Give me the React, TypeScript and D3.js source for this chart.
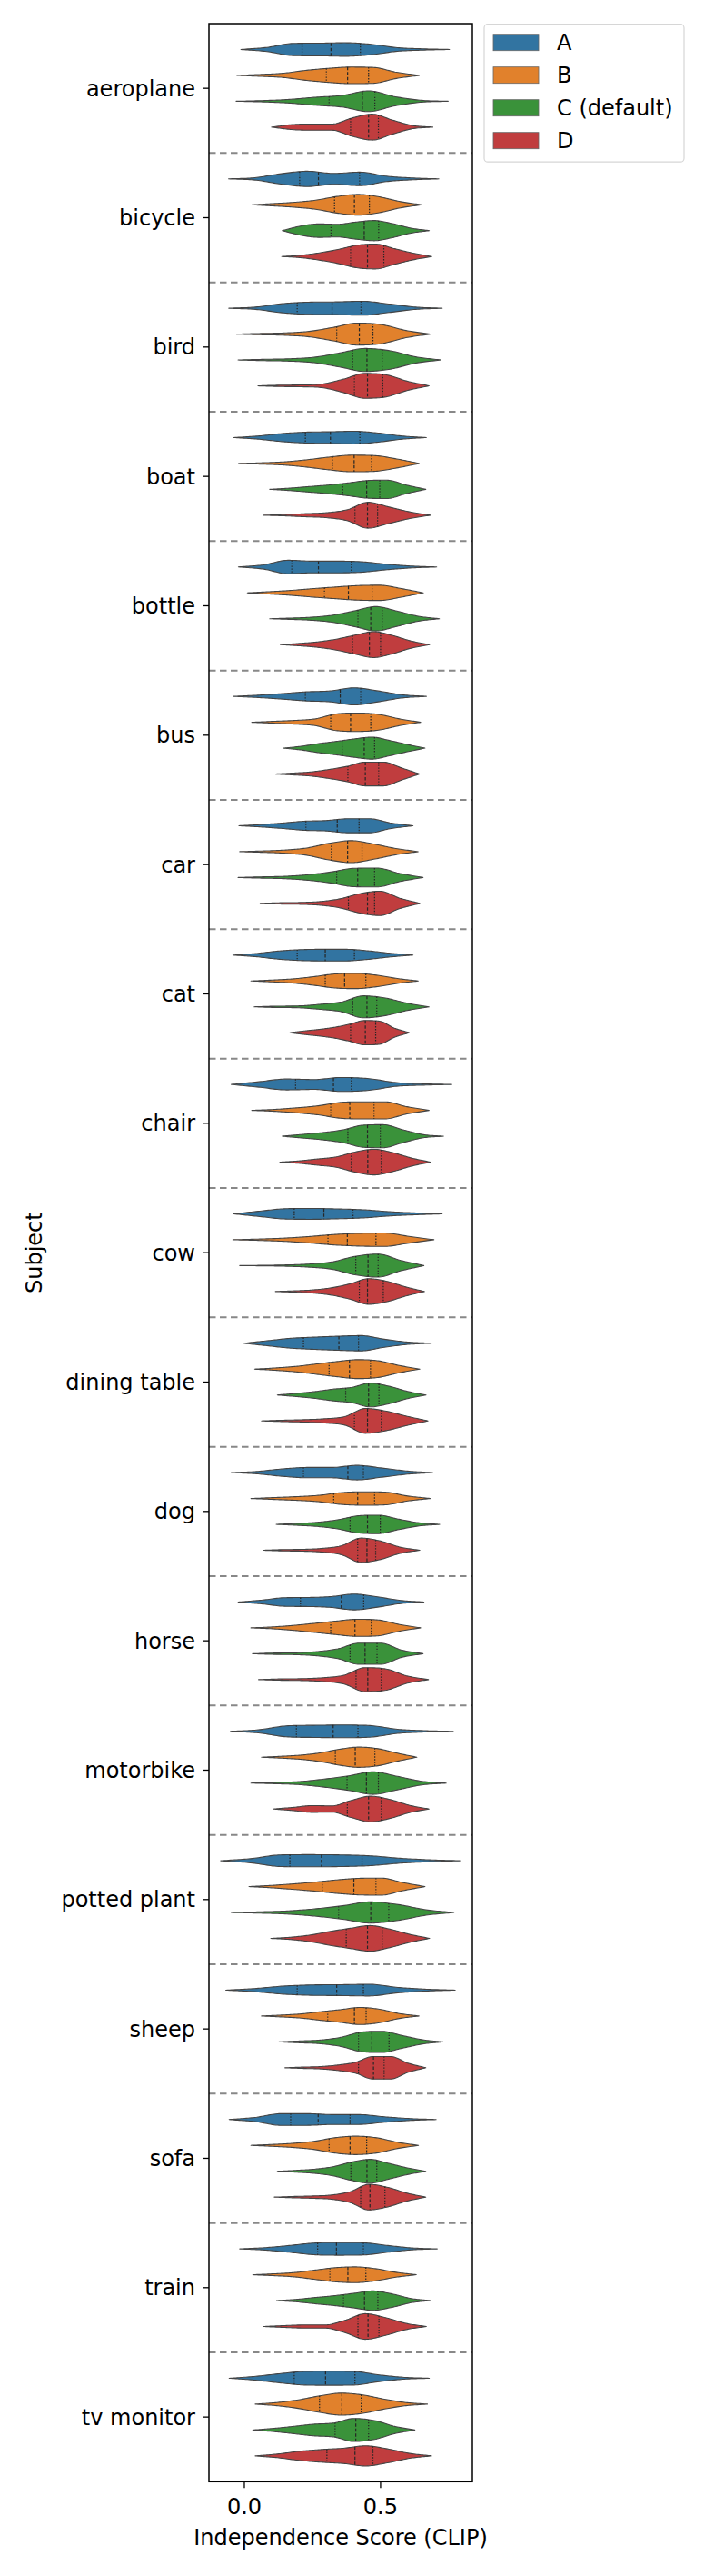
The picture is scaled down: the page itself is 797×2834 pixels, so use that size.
import React from "react";
import * as d3 from "d3";

const categories = [
  "aeroplane", "bicycle", "bird", "boat", "bottle", "bus", "car", "cat", "chair", "cow",
  "dining table", "dog", "horse", "motorbike", "potted plant", "sheep", "sofa", "train", "tv monitor",
];
const hueNames = ["A", "B", "C (default)", "D"];
const hueColors = ["#3274a1", "#e1812c", "#3a923a", "#c03d3e"];
const xTicks = [0.0, 0.5];

// Series A: [lo, hi], [q1, median, q3], density profile (7 interior points)
const rangeA = [
  [-0.013, 0.753], [-0.058, 0.714], [-0.057, 0.726], [-0.039, 0.668], [-0.022, 0.706],
  [-0.039, 0.668], [-0.02, 0.619], [-0.042, 0.619], [-0.048, 0.761], [-0.039, 0.726],
  [-0.003, 0.686], [-0.048, 0.691], [-0.023, 0.659], [-0.051, 0.767], [-0.087, 0.791],
  [-0.068, 0.774], [-0.056, 0.704], [-0.017, 0.708], [-0.056, 0.679],
];
const quartA = [
  [0.212, 0.318, 0.426], [0.203, 0.272, 0.423], [0.194, 0.322, 0.428], [0.224, 0.316, 0.424],
  [0.174, 0.272, 0.393], [0.224, 0.352, 0.427], [0.226, 0.341, 0.421], [0.194, 0.297, 0.404],
  [0.188, 0.327, 0.393], [0.183, 0.292, 0.399], [0.217, 0.347, 0.419], [0.217, 0.38, 0.437],
  [0.206, 0.356, 0.438], [0.191, 0.326, 0.417], [0.167, 0.283, 0.432], [0.194, 0.339, 0.437],
  [0.17, 0.271, 0.388], [0.269, 0.338, 0.437], [0.183, 0.298, 0.406],
];
const densA = [
  [0.16, 0.47, 0.49, 0.52, 0.40, 0.14, 0.05],
  [0.09, 0.40, 0.59, 0.42, 0.52, 0.21, 0.07],
  [0.09, 0.35, 0.47, 0.49, 0.54, 0.33, 0.09],
  [0.12, 0.31, 0.42, 0.45, 0.49, 0.35, 0.12],
  [0.16, 0.52, 0.45, 0.45, 0.40, 0.21, 0.07],
  [0.09, 0.21, 0.35, 0.42, 0.66, 0.42, 0.12],
  [0.09, 0.21, 0.35, 0.40, 0.54, 0.54, 0.21],
  [0.12, 0.31, 0.42, 0.45, 0.45, 0.33, 0.14],
  [0.21, 0.42, 0.38, 0.54, 0.45, 0.14, 0.05],
  [0.21, 0.40, 0.42, 0.38, 0.31, 0.16, 0.07],
  [0.19, 0.38, 0.47, 0.54, 0.59, 0.31, 0.09],
  [0.09, 0.28, 0.40, 0.40, 0.56, 0.35, 0.12],
  [0.14, 0.33, 0.35, 0.42, 0.61, 0.40, 0.12],
  [0.12, 0.42, 0.47, 0.49, 0.45, 0.16, 0.05],
  [0.16, 0.45, 0.47, 0.45, 0.38, 0.19, 0.07],
  [0.12, 0.31, 0.40, 0.42, 0.45, 0.21, 0.07],
  [0.16, 0.45, 0.45, 0.38, 0.38, 0.21, 0.07],
  [0.09, 0.26, 0.45, 0.49, 0.47, 0.26, 0.07],
  [0.14, 0.35, 0.52, 0.54, 0.52, 0.26, 0.07],
];

// Series B
const rangeB = [
  [-0.027, 0.642], [0.028, 0.651], [-0.029, 0.682], [-0.022, 0.642], [0.011, 0.657],
  [0.027, 0.647], [-0.017, 0.638], [0.024, 0.638], [0.027, 0.678], [-0.042, 0.696],
  [0.038, 0.644], [0.024, 0.682], [0.024, 0.647], [0.063, 0.633], [0.017, 0.663],
  [0.063, 0.641], [0.024, 0.639], [0.031, 0.631], [0.04, 0.672],
];
const quartB = [
  [0.301, 0.379, 0.456], [0.331, 0.404, 0.459], [0.339, 0.422, 0.472], [0.323, 0.403, 0.467],
  [0.294, 0.382, 0.469], [0.317, 0.39, 0.464], [0.319, 0.379, 0.432], [0.297, 0.368, 0.446],
  [0.317, 0.387, 0.476], [0.307, 0.378, 0.483], [0.311, 0.386, 0.463], [0.328, 0.416, 0.478],
  [0.317, 0.406, 0.466], [0.334, 0.407, 0.479], [0.286, 0.402, 0.483], [0.306, 0.404, 0.447],
  [0.311, 0.388, 0.449], [0.314, 0.38, 0.446], [0.276, 0.358, 0.429],
];
const densB = [
  [0.07, 0.16, 0.38, 0.54, 0.64, 0.61, 0.24],
  [0.09, 0.19, 0.35, 0.64, 0.80, 0.61, 0.24],
  [0.05, 0.09, 0.21, 0.52, 0.85, 0.73, 0.28],
  [0.05, 0.12, 0.28, 0.49, 0.64, 0.61, 0.35],
  [0.09, 0.19, 0.33, 0.45, 0.56, 0.59, 0.33],
  [0.07, 0.14, 0.26, 0.64, 0.71, 0.61, 0.26],
  [0.05, 0.12, 0.28, 0.64, 0.85, 0.59, 0.24],
  [0.07, 0.16, 0.33, 0.54, 0.59, 0.45, 0.19],
  [0.07, 0.19, 0.35, 0.61, 0.66, 0.66, 0.28],
  [0.05, 0.12, 0.24, 0.40, 0.49, 0.52, 0.26],
  [0.09, 0.21, 0.40, 0.59, 0.73, 0.64, 0.28],
  [0.07, 0.14, 0.24, 0.45, 0.52, 0.49, 0.19],
  [0.07, 0.19, 0.35, 0.52, 0.66, 0.61, 0.26],
  [0.07, 0.16, 0.33, 0.61, 0.78, 0.66, 0.31],
  [0.09, 0.21, 0.35, 0.52, 0.64, 0.66, 0.31],
  [0.07, 0.16, 0.33, 0.49, 0.66, 0.52, 0.19],
  [0.07, 0.16, 0.31, 0.59, 0.71, 0.59, 0.24],
  [0.07, 0.16, 0.35, 0.54, 0.61, 0.47, 0.19],
  [0.12, 0.33, 0.64, 0.85, 0.71, 0.38, 0.12],
];

// Series C (default)
const rangeC = [
  [-0.03, 0.748], [0.139, 0.679], [-0.023, 0.722], [0.093, 0.666], [0.093, 0.716],
  [0.143, 0.663], [-0.023, 0.656], [0.036, 0.678], [0.139, 0.731], [-0.017, 0.659],
  [0.121, 0.667], [0.117, 0.717], [0.03, 0.656], [0.024, 0.741], [-0.048, 0.769],
  [0.127, 0.73], [0.121, 0.666], [0.118, 0.683], [0.031, 0.626],
];
const quartC = [
  [0.311, 0.433, 0.479], [0.318, 0.44, 0.493], [0.398, 0.45, 0.506], [0.361, 0.449, 0.497],
  [0.417, 0.464, 0.506], [0.359, 0.44, 0.478], [0.339, 0.416, 0.478], [0.398, 0.45, 0.486],
  [0.38, 0.452, 0.499], [0.409, 0.454, 0.491], [0.372, 0.456, 0.494], [0.388, 0.452, 0.499],
  [0.388, 0.443, 0.487], [0.377, 0.448, 0.492], [0.346, 0.464, 0.53], [0.419, 0.468, 0.531],
  [0.391, 0.45, 0.486], [0.364, 0.441, 0.49], [0.333, 0.409, 0.456],
];
const densC = [
  [0.05, 0.14, 0.31, 0.45, 0.80, 0.35, 0.07],
  [0.35, 0.52, 0.49, 0.66, 0.78, 0.54, 0.19],
  [0.05, 0.09, 0.21, 0.54, 0.89, 0.71, 0.24],
  [0.09, 0.21, 0.33, 0.49, 0.68, 0.71, 0.33],
  [0.05, 0.12, 0.28, 0.61, 0.94, 0.59, 0.19],
  [0.14, 0.35, 0.52, 0.71, 0.85, 0.59, 0.28],
  [0.05, 0.09, 0.21, 0.42, 0.71, 0.73, 0.31],
  [0.05, 0.07, 0.19, 0.38, 0.85, 0.68, 0.28],
  [0.14, 0.28, 0.49, 0.85, 0.89, 0.49, 0.12],
  [0.02, 0.05, 0.12, 0.28, 0.71, 0.89, 0.40],
  [0.12, 0.26, 0.45, 0.59, 0.92, 0.68, 0.28],
  [0.07, 0.16, 0.35, 0.66, 0.71, 0.40, 0.12],
  [0.05, 0.07, 0.16, 0.38, 0.82, 0.82, 0.28],
  [0.05, 0.12, 0.31, 0.56, 0.87, 0.52, 0.14],
  [0.05, 0.12, 0.28, 0.52, 0.82, 0.61, 0.21],
  [0.07, 0.14, 0.35, 0.75, 0.82, 0.49, 0.16],
  [0.07, 0.16, 0.35, 0.71, 0.92, 0.61, 0.26],
  [0.09, 0.24, 0.38, 0.56, 0.75, 0.52, 0.16],
  [0.12, 0.28, 0.45, 0.54, 0.89, 0.73, 0.28],
];

// Series D
const rangeD = [
  [0.1, 0.692], [0.137, 0.688], [0.05, 0.678], [0.071, 0.683], [0.132, 0.68],
  [0.112, 0.643], [0.058, 0.644], [0.167, 0.606], [0.13, 0.683], [0.114, 0.661],
  [0.063, 0.674], [0.069, 0.644], [0.052, 0.676], [0.106, 0.678], [0.097, 0.68],
  [0.149, 0.666], [0.11, 0.666], [0.07, 0.668], [0.04, 0.687],
];
const quartD = [
  [0.39, 0.456, 0.492], [0.39, 0.452, 0.512], [0.404, 0.452, 0.508], [0.406, 0.452, 0.489],
  [0.397, 0.459, 0.5], [0.38, 0.444, 0.493], [0.382, 0.452, 0.478], [0.39, 0.444, 0.482],
  [0.392, 0.453, 0.502], [0.422, 0.452, 0.51], [0.404, 0.452, 0.503], [0.416, 0.45, 0.482],
  [0.41, 0.453, 0.502], [0.378, 0.456, 0.502], [0.374, 0.452, 0.506], [0.419, 0.474, 0.513],
  [0.427, 0.461, 0.516], [0.417, 0.454, 0.494], [0.303, 0.406, 0.472],
];
const densD = [
  [0.19, 0.24, 0.24, 0.71, 1.0, 0.54, 0.12],
  [0.09, 0.28, 0.54, 0.87, 0.96, 0.61, 0.26],
  [0.05, 0.07, 0.14, 0.52, 0.96, 0.85, 0.35],
  [0.05, 0.12, 0.19, 0.42, 1.0, 0.64, 0.26],
  [0.09, 0.21, 0.42, 0.73, 1.0, 0.71, 0.28],
  [0.07, 0.16, 0.35, 0.59, 0.92, 0.92, 0.47],
  [0.05, 0.07, 0.14, 0.35, 0.75, 0.94, 0.40],
  [0.14, 0.26, 0.42, 0.66, 0.94, 0.89, 0.35],
  [0.09, 0.24, 0.40, 0.78, 0.99, 0.73, 0.31],
  [0.05, 0.12, 0.28, 0.59, 0.99, 0.78, 0.35],
  [0.05, 0.09, 0.16, 0.33, 0.96, 0.75, 0.35],
  [0.05, 0.07, 0.14, 0.35, 0.94, 0.71, 0.24],
  [0.05, 0.07, 0.14, 0.33, 0.92, 0.82, 0.28],
  [0.12, 0.26, 0.24, 0.66, 0.99, 0.73, 0.28],
  [0.09, 0.26, 0.54, 0.78, 0.99, 0.71, 0.31],
  [0.05, 0.09, 0.21, 0.42, 0.87, 0.87, 0.35],
  [0.05, 0.09, 0.16, 0.42, 0.99, 0.75, 0.31],
  [0.07, 0.12, 0.12, 0.47, 0.99, 0.68, 0.24],
  [0.14, 0.35, 0.49, 0.59, 0.78, 0.54, 0.19],
];

const ranges = [rangeA, rangeB, rangeC, rangeD];
const quarts = [quartA, quartB, quartC, quartD];
const dens = [densA, densB, densC, densD];
const hueOffsets = [-0.3, -0.1, 0.1, 0.3];

// Monotone cubic (Fritsch-Carlson) interpolator over uniform grid
function monotone(ys: number[]) {
  const n = ys.length;
  const d: number[] = [];
  for (let i = 0; i < n - 1; i++) d.push(ys[i + 1] - ys[i]);
  const m: number[] = new Array(n).fill(0);
  m[0] = d[0];
  m[n - 1] = d[n - 2];
  for (let i = 1; i < n - 1; i++) m[i] = d[i - 1] * d[i] <= 0 ? 0 : (d[i - 1] + d[i]) / 2;
  for (let i = 0; i < n - 1; i++) {
    if (d[i] === 0) { m[i] = 0; m[i + 1] = 0; continue; }
    const a = m[i] / d[i], b = m[i + 1] / d[i];
    const s = a * a + b * b;
    if (s > 9) { const t = 3 / Math.sqrt(s); m[i] = t * a * d[i]; m[i + 1] = t * b * d[i]; }
  }
  return (u: number) => {
    let i = Math.floor(u);
    if (i < 0) i = 0;
    if (i > n - 2) i = n - 2;
    const t = u - i;
    const t2 = t * t, t3 = t2 * t;
    const v = (2 * t3 - 3 * t2 + 1) * ys[i] + (t3 - 2 * t2 + t) * m[i] +
      (-2 * t3 + 3 * t2) * ys[i + 1] + (t3 - t2) * m[i + 1];
    return Math.max(0, v);
  };
}

const W = 797, H = 2834;
const FONT = "DejaVu Sans, sans-serif";

export default function App() {
  const x = d3.scaleLinear().domain([-0.13, 0.837]).range([230, 520]);
  const y = d3.scaleLinear().domain([-0.5, categories.length - 0.5]).range([26, 2730.3]);
  const unit = y(0.1) - y(0);
  const left = x.range()[0], right = x.range()[1];
  const top = y.range()[0], bottom = y.range()[1];

  const violins: React.ReactNode[] = [];
  categories.forEach((cat, ci) => {
    for (let h = 0; h < 4; h++) {
      const [lo, hi] = ranges[h][ci];
      const profile = [0, ...dens[h][ci], 0];
      const f = monotone(profile);
      const cy = y(ci + hueOffsets[h]);
      const N = 120;
      const pts = d3.range(N + 1).map((k) => {
        const t = k / N;
        return { v: lo + t * (hi - lo), w: f(t * (profile.length - 1)) * unit };
      });
      const area = d3.area<{ v: number; w: number }>()
        .x((p) => x(p.v))
        .y0((p) => cy - p.w)
        .y1((p) => cy + p.w)
        .curve(d3.curveLinear);
      violins.push(
        <path key={`v-${ci}-${h}`} d={area(pts) || ""} fill={hueColors[h]}
          stroke="#444" strokeWidth={1.1} strokeLinejoin="round" />
      );
      quarts[h][ci].forEach((q, qi) => {
        const t = (q - lo) / (hi - lo);
        const w = f(t * (profile.length - 1)) * unit;
        violins.push(
          <line key={`q-${ci}-${h}-${qi}`} x1={x(q)} x2={x(q)} y1={cy - w} y2={cy + w}
            stroke="#262626" strokeWidth={1.2}
            strokeDasharray={qi === 1 ? "3.5,2" : "1.4,1.6"} />
        );
      });
    }
  });

  return (
    <svg width={W} height={H} style={{ position: "absolute", left: 0, top: 0, background: "#fff" }}
      fontFamily={FONT}>
      <rect x={0} y={0} width={W} height={H} fill="#fff" />
      {/* separators */}
      {categories.slice(0, -1).map((_, i) => (
        <line key={`sep-${i}`} x1={left} x2={right} y1={y(i + 0.5)} y2={y(i + 0.5)}
          stroke="#888" strokeWidth={2} strokeDasharray="7.5,4.5" />
      ))}
      {violins}
      {/* spines */}
      <rect x={left} y={top} width={right - left} height={bottom - top} fill="none"
        stroke="#000" strokeWidth={1.5} />
      {/* y ticks */}
      {categories.map((c, i) => (
        <g key={`yt-${i}`}>
          <line x1={left - 7} x2={left} y1={y(i)} y2={y(i)} stroke="#000" strokeWidth={1.3} />
          <text x={left - 15} y={y(i) + 8.5} textAnchor="end" fontSize={24} fill="#000">{c}</text>
        </g>
      ))}
      {/* x ticks */}
      {xTicks.map((t) => (
        <g key={`xt-${t}`}>
          <line x1={x(t)} x2={x(t)} y1={bottom} y2={bottom + 7} stroke="#000" strokeWidth={1.3} />
          <text x={x(t)} y={2766} textAnchor="middle" fontSize={24} fill="#000">{t.toFixed(1)}</text>
        </g>
      ))}
      <text x={(left + right) / 2} y={2800} textAnchor="middle" fontSize={24} fill="#000">
        Independence Score (CLIP)
      </text>
      <text transform={`translate(46, ${(top + bottom) / 2}) rotate(-90)`} textAnchor="middle"
        fontSize={24} fill="#000">Subject</text>
      {/* legend */}
      <rect x={533} y={26.7} width={220} height={151.5} rx={4} fill="#fff" stroke="#d6d6d6" strokeWidth={1.2} />
      {hueNames.map((n, i) => (
        <g key={`lg-${i}`}>
          <rect x={543} y={46.7 + i * 36 - 9} width={50} height={18} fill={hueColors[i]}
            stroke="#666" strokeWidth={0.8} />
          <text x={613} y={46.7 + i * 36 + 8.5} fontSize={24} fill="#000">{n}</text>
        </g>
      ))}
    </svg>
  );
}
